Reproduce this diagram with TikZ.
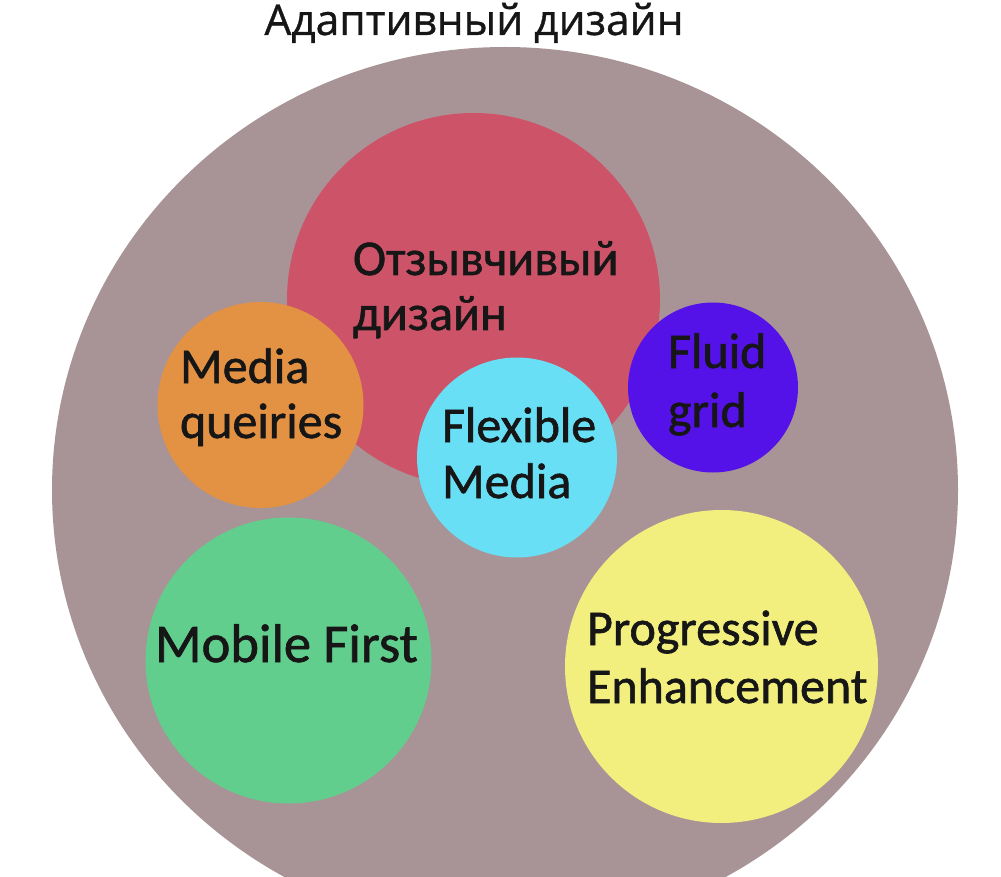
\documentclass[tikz,border=0pt]{standalone}
\usepackage{fontspec}
\setmainfont{Carlito}[RawFeature={embolden=1.2}]
\newfontfamily\titlefont{Open Sans}[RawFeature={embolden=0.8}]
\usetikzlibrary{shapes.geometric}
\definecolor{bigc}{HTML}{A89496}
\definecolor{redc}{HTML}{CD5468}
\definecolor{orangec}{HTML}{E39143}
\definecolor{cyanc}{HTML}{68DFF5}
\definecolor{purplec}{HTML}{5512E8}
\definecolor{greenc}{HTML}{62CE8D}
\definecolor{yellowc}{HTML}{F2EF7E}
\definecolor{txt}{HTML}{161616}
\tikzset{
  blob/.style={circle, inner sep=0pt, outer sep=0pt, draw=none},
  lbl/.style={anchor=base west, inner sep=0pt, outer sep=0pt, text=txt, font=\fontsize{50pt}{58pt}\selectfont},
}
\begin{document}
\begin{tikzpicture}[x=1pt,y=-1pt]
\useasboundingbox (0,0) rectangle (1001,877);
\clip (0,0) rectangle (1001,877);
\fill[white] (0,0) rectangle (1001,877);
\node[ellipse, fill=bigc, inner sep=0pt, minimum width=906pt, minimum height=886pt] (big) at (505,490) {};
\node[blob, fill=redc, minimum size=373pt] (red) at (473.5,299.5) {};
\node[blob, fill=orangec, minimum size=206pt] (orange) at (260.5,405) {};
\node[blob, fill=purplec, minimum size=170pt] (purple) at (713,387.5) {};
\node[blob, fill=cyanc, minimum size=200pt] (cyan) at (517,457.5) {};
\node[blob, fill=greenc, minimum size=286pt] (green) at (288.5,660.5) {};
\node[blob, fill=yellowc, minimum size=313pt] (yellow) at (721.5,666.5) {};
\node[anchor=base, inner sep=0pt, text=txt, font=\titlefont\fontsize{42.5pt}{48pt}\selectfont] (title) at (474,35) {Адаптивный дизайн};
\node[lbl] (r1) at (353,275) {Отзывчивый};
\node[lbl] (r2) at (353,330) {дизайн};
\node[lbl] (o1) at (180,383) {Media};
\node[lbl] (o2) at (180,438) {queiries};
\node[lbl] (p1) at (668,368) {Fluid};
\node[lbl] (p2) at (668,427) {grid};
\node[lbl] (c1) at (442,442) {Flexible};
\node[lbl] (c2) at (442,498) {Media};
\node[lbl, font=\fontsize{54.5pt}{60pt}\selectfont] (g1) at (155,662) {Mobile First};
\node[lbl] (y1) at (587,645) {Progressive};
\node[lbl] (y2) at (587,703) {Enhancement};
\end{tikzpicture}
\end{document}
